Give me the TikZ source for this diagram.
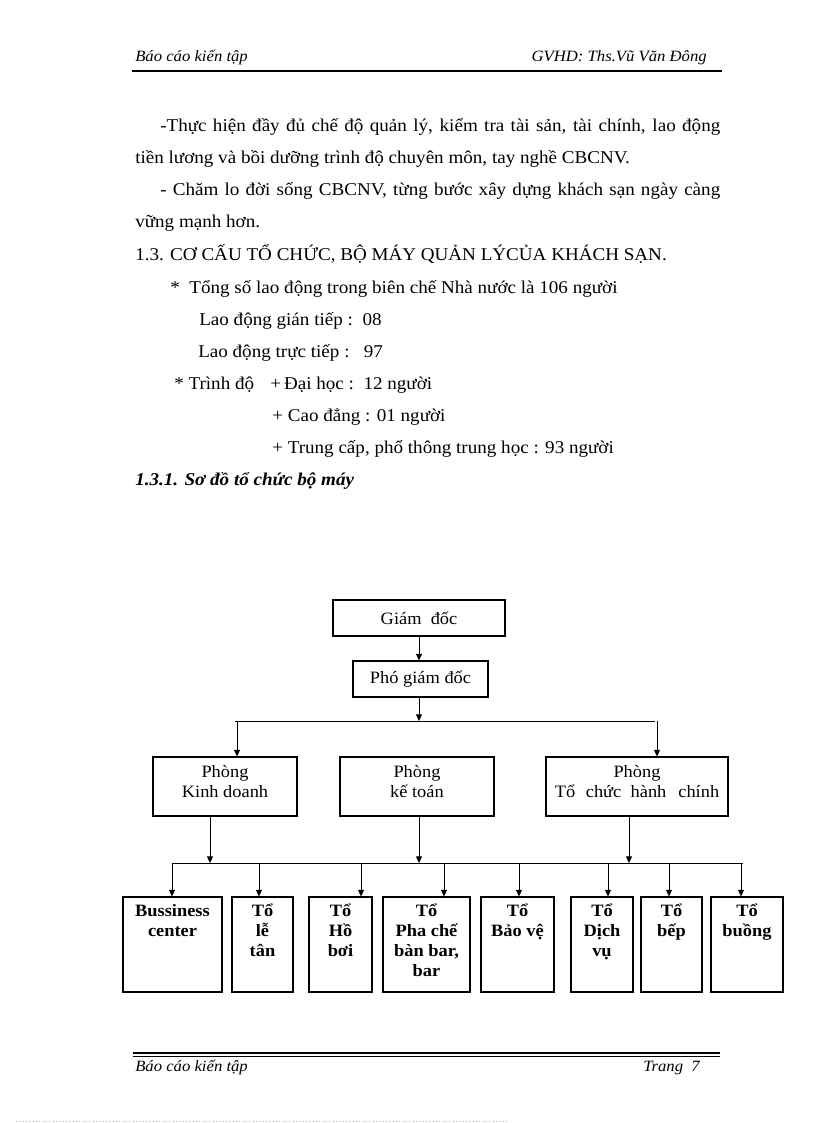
\documentclass[tikz,border=0pt]{standalone}
\usepackage{fontspec}
\setmainfont{Liberation Serif}[FakeStretch=1.06]
\usetikzlibrary{arrows.meta,positioning}
\newcommand\topstrut{\rule{0pt}{12pt}}
\newcommand\botstrut{\rule[-7pt]{0pt}{7pt}}

\begin{document}
\begin{tikzpicture}[x=0.75pt, y=-0.75pt,
  box/.style={draw, line width=0.8pt, align=center, font=\fontsize{13}{15}\selectfont, inner sep=1pt},
  tobox/.style={draw, line width=0.8pt, minimum height=71.25pt, inner sep=0pt},
  tolbl/.style={anchor=north, align=center, font=\fontsize{13}{15}\selectfont\bfseries, inner sep=0pt, yshift=-3pt},
  arr/.style={-{Triangle[length=5pt, width=4.5pt]}, line width=0.75pt},
  ln/.style={line width=0.75pt},
  txt/.style={anchor=base west, inner sep=0pt, font=\fontsize{13.5}{15}\selectfont},
  hdr/.style={anchor=base west, inner sep=0pt, font=\fontsize{11.8}{15}\selectfont\itshape}
]
  \useasboundingbox[fill=white] (0,0) rectangle (816,1123);

  % header and footer
  \node[hdr] (hdl) at (135,62) {Báo cáo kiến tập};
  \node[hdr, anchor=base east] (hdr) at (707,62) {GVHD: Ths.Vũ Văn Đông};
  \draw[line width=1.2pt] (132,71) -- (722,71);
  \draw[line width=1.3pt] (133,1053) -- (720,1053);
  \draw[line width=0.5pt] (133,1056.5) -- (720,1056.5);
  \node[hdr] (ftl) at (135,1071) {Báo cáo kiến tập};
  \node[hdr] (ftr) at (643,1071) {Trang\ \ 7};
  \draw[gray!60, line width=0.5pt, dash pattern=on 0.5pt off 2pt] (16,1121.5) -- (507,1121.5);

  % body text
  \node[txt] (p1a) at (160,132) {\makebox[420pt][s]{-Thực hiện đầy đủ chế độ quản lý, kiểm tra tài sản, tài chính, lao động}};
  \node[txt] (p1b) at (135,164) {tiền lương và bồi dưỡng trình độ chuyên môn, tay nghề CBCNV.};
  \node[txt] (p2a) at (160,196) {\makebox[420pt][s]{- Chăm lo đời sống CBCNV, từng bước xây dựng khách sạn ngày càng}};
  \node[txt] (p2b) at (135,228) {vững mạnh hơn.};
  \node[txt] (h13) at (135,260) {1.3. CƠ CẤU TỔ CHỨC, BỘ MÁY QUẢN LÝCỦA KHÁCH SẠN.};
  \node[txt] (n1) at (170,293) {*\ \ Tổng số lao động trong biên chế Nhà nước là 106 người};
  \node[txt] (n2) at (199,325) {Lao động gián tiếp :\ \ 08};
  \node[txt] (n3) at (198,357) {Lao động trực tiếp :\ \ \ 97};
  \node[txt] (n4a) at (174,389) {* Trình độ};
  \node[txt] (n4b) at (270,389) {+\,Đại học :\ \ 12 người};
  \node[txt] (n5) at (272,421) {+ Cao đẳng : 01 người};
  \node[txt] (n6) at (272,453) {+ Trung cấp, phổ thông trung học : 93 người};
  \node[txt, font=\fontsize{13.5}{15}\selectfont\bfseries\itshape] (sec) at (135,485) {1.3.1. Sơ đồ tổ chức bộ máy};

  % chart
  \node[box, minimum width=129pt, minimum height=27pt] (gd) at (419,618) {Giám\ \ đốc};
  \node[box, minimum width=101.25pt, minimum height=27pt] (pgd) at (420.5,679) {Phó giám đốc};
  \node[box, minimum width=108pt, minimum height=44.25pt] (pkd) at (225,786.5) {Phòng\\Kinh doanh\botstrut};
  \node[box, minimum width=115.5pt, minimum height=44.25pt] (pkt) at (417,786.5) {Phòng\\kế toán\botstrut};
  \node[box, minimum width=136.5pt, minimum height=44.25pt] (ptc) at (637,786.5) {Phòng\\Tổ\hspace{8pt}chức\hspace{7pt}hành\hspace{9pt}chính\botstrut};

  \node[tobox, minimum width=74.25pt, label={[tolbl]90:{\topstrut Bussiness\\center}}] (bc) at (172.5,944.5) {};
  \node[tobox, minimum width=45.75pt, label={[tolbl]90:{\topstrut Tổ\\lễ\\tân}}] (lt) at (262.5,944.5) {};
  \node[tobox, minimum width=47.25pt, label={[tolbl]90:{\topstrut Tổ\\Hồ\\bơi}}] (hb) at (340.5,944.5) {};
  \node[tobox, minimum width=65.25pt, label={[tolbl]90:{\topstrut Tổ\\Pha chế\\bàn bar,\\bar}}] (pc) at (426.5,944.5) {};
  \node[tobox, minimum width=54.75pt, label={[tolbl]90:{\topstrut Tổ\\Bảo vệ}}] (bv) at (517.5,944.5) {};
  \node[tobox, minimum width=46.5pt, label={[tolbl]90:{\topstrut Tổ\\Dịch\\vụ}}] (dv) at (602,944.5) {};
  \node[tobox, minimum width=45.75pt, label={[tolbl]90:{\topstrut Tổ\\bếp}}] (bep) at (671.5,944.5) {};
  \node[tobox, minimum width=54pt, label={[tolbl]90:{\topstrut Tổ\\buồng}}] (bg) at (747,944.5) {};

  \coordinate (jt) at (419,721);
  \coordinate (hl) at (235,721);
  \coordinate (hr) at (655,721);
  \coordinate (ak) at (237,721);
  \coordinate (at) at (657,721);
  \draw[arr] (gd.south) -- (gd.south |- pgd.north);
  \draw[arr] (pgd.south -| jt) -- (jt);
  \draw[ln] (hl) -- (hr);
  \draw[arr] (ak) -- (ak |- pkd.north);
  \draw[arr] (at) -- (at |- ptc.north);

  \coordinate (bl) at (172,863);
  \coordinate (br) at (743,863);
  \coordinate (uk) at (210,863);
  \coordinate (uq) at (419,863);
  \coordinate (ut) at (629,863);
  \draw[ln] (bl) -- (br);
  \draw[arr] (uk |- pkd.south) -- (uk);
  \draw[arr] (uq |- pkt.south) -- (uq);
  \draw[arr] (ut |- ptc.south) -- (ut);
  \foreach \n/\x in {bc/172, lt/259, hb/361, pc/444, bv/519, dv/608, bep/669, bg/741} {
    \coordinate (d\n) at (\x,863);
    \draw[arr] (d\n) -- (d\n |- \n.north);
  }
\end{tikzpicture}
\end{document}
